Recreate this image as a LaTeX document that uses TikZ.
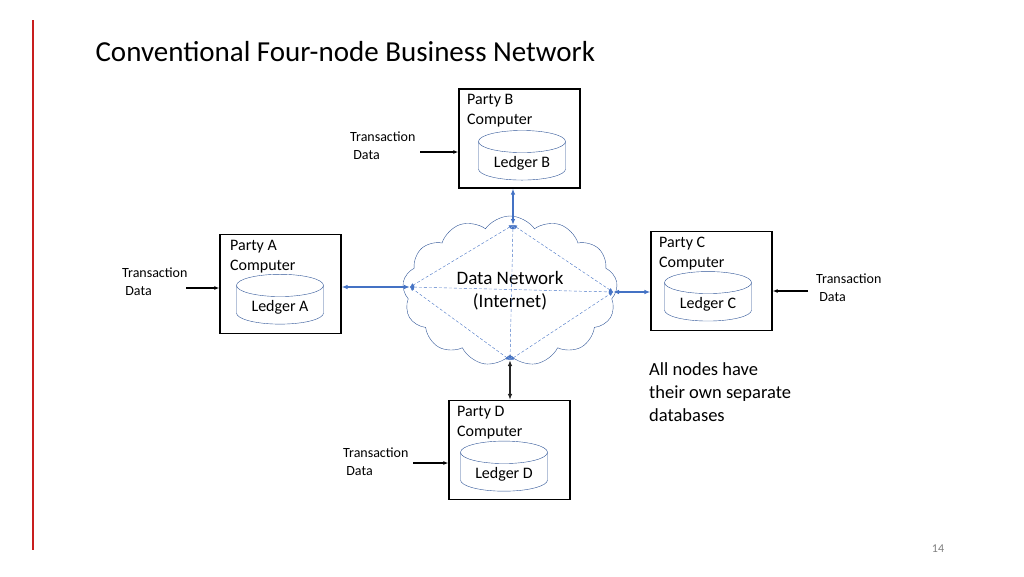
\documentclass[tikz,border=0pt]{standalone}
\usepackage{fontspec}
\setmainfont{Carlito}
\usetikzlibrary{shapes.geometric,shapes.symbols,arrows.meta}
\definecolor{netblue}{RGB}{68,114,196}
\definecolor{cylblue}{RGB}{47,85,151}
\definecolor{barred}{RGB}{200,30,30}
\begin{document}
\begin{tikzpicture}[x=1pt,y=-1pt,
    party_node/.style={draw,line width=1.1pt,minimum width=121pt,minimum height=99pt},
    ledger_node/.style={cylinder,draw=cylblue,shape border rotate=90,aspect=0.35,
      minimum width=87pt,minimum height=38pt,font=\fontsize{16}{16}\selectfont},
    label_node/.style={anchor=north west,align=left,inner sep=0pt,font=\fontsize{16}{20}\selectfont},
    tx_node/.style={align=left,inner sep=0pt,font=\fontsize{14}{18}\selectfont},
    tx_arrow/.style={line width=1.3pt,-{Latex[length=5pt]}},
    link/.style={netblue,line width=1.3pt,{Latex[length=6pt]}-{Latex[length=6pt]}},
    mesh/.style={netblue,densely dashed,{Latex[length=4pt,width=4pt]}-{Latex[length=4pt,width=4pt]}}]

    \useasboundingbox (0,0) rectangle (1024,576);
    \draw[barred,line width=1.2pt] (33,20) -- (33,550);
    \node[anchor=west,font=\fontsize{29}{29}\selectfont] (title) at (92,52) {Conventional Four-node Business Network};
    \node[font=\fontsize{12}{12}\selectfont,gray] (page) at (938,549) {14};

    % parties
    \node[party_node] (B) at (519.5,138.5) {};
    \node[party_node] (A) at (280.5,284) {};
    \node[party_node] (C) at (711.5,281) {};
    \node[party_node] (D) at (509.5,450) {};
    \node[label_node] at (467,94) {Party B\\Computer};
    \node[label_node] at (230,240) {Party A\\Computer};
    \node[label_node] at (659,237) {Party C\\Computer};
    \node[label_node] at (457,406) {Party D\\Computer};
    \node[ledger_node] (LB) at (522,163) {Ledger B};
    \node[ledger_node] (LA) at (280,307) {Ledger A};
    \node[ledger_node] (LC) at (708,304) {Ledger C};
    \node[ledger_node] (LD) at (504,474) {Ledger D};

    % transaction inputs
    \node[tx_node,anchor=north west] (tB) at (350,132) {Transaction\\\ Data};
    \node[tx_node,anchor=north west] (tA) at (122,268) {Transaction\\\ Data};
    \node[tx_node,anchor=north west] (tC) at (816,274) {Transaction\\\ Data};
    \node[tx_node,anchor=north west] (tD) at (343,448) {Transaction\\\ Data};
    \coordinate (sB) at (420,152);
    \coordinate (sA) at (186,288);
    \coordinate (sC) at (808,291);
    \coordinate (sD) at (413,463);
    \draw[tx_arrow] (sB) -- (B.west |- sB);
    \draw[tx_arrow] (sA) -- (A.west |- sA);
    \draw[tx_arrow] (sC) -- (C.east |- sC);
    \draw[tx_arrow] (sD) -- (D.west |- sD);

    % network
    \node[cloud,draw=cylblue,cloud puffs=13,cloud puff arc=110,aspect=1.5,
      minimum width=215pt,minimum height=150pt,align=center,
      font=\fontsize{19}{23}\selectfont] (net) at (510,291) {Data Network\\(Internet)};
    \coordinate (nT) at (513,225);
    \coordinate (nL) at (410,287);
    \coordinate (nR) at (613,292);
    \coordinate (nN) at (510,360);
    \draw[link] (nT) -- (B.south -| nT);
    \draw[link] (nL) -- (A.east |- nL);
    \draw[link] (nR) -- (C.west |- nR);
    \draw[line width=1.3pt,gray!30!black,{Latex[length=6pt]}-{Latex[length=6pt]}] (nN) -- (D.north -| nN);
    \draw[mesh] (nT) -- (nL);
    \draw[mesh] (nT) -- (nR);
    \draw[mesh] (nN) -- (nL);
    \draw[mesh] (nN) -- (nR);
    \draw[mesh] (nL) -- (nR);
    \draw[mesh] (nT) -- (nN);

    \node[anchor=north west,align=left,inner sep=0pt,font=\fontsize{18.5}{23}\selectfont] (note) at (649,362)
      {All nodes have\\their own separate\\databases};
\end{tikzpicture}
\end{document}
